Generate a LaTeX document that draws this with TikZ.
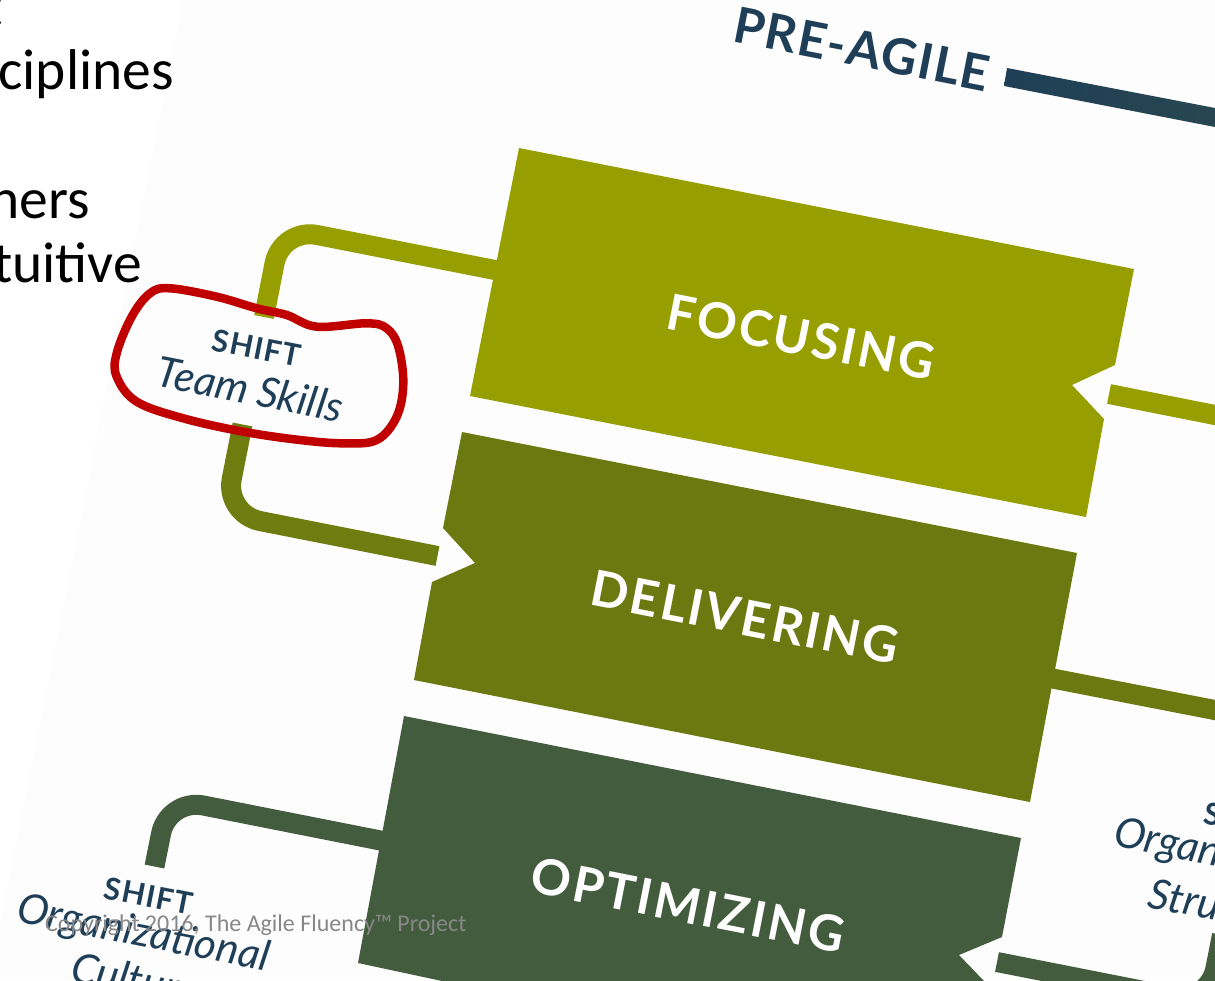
\documentclass[tikz,border=0pt]{standalone}
\usepackage{fontspec}
\setmainfont{Lato}
\newfontfamily\lvlfont[LetterSpace=5]{Lato}
\newfontfamily\barfont[LetterSpace=3]{Lato}
\newfontfamily\shiftfont[LetterSpace=4]{Lato}
\newfontfamily\slidefont{Carlito}
\definecolor{paper}{HTML}{FDFDFD}
\definecolor{focusc}{HTML}{979E00}
\definecolor{deliverc}{HTML}{6B7A10}
\definecolor{optimc}{HTML}{445C3E}
\definecolor{navy}{HTML}{1E3F57}
\definecolor{redmark}{HTML}{C00000}
\tikzset{
  lvltext/.style={text=white,font=\lvlfont\bfseries\fontsize{49.5}{49.5}\selectfont,rotate=-11.15,inner sep=0pt},
  shifthead/.style={text=navy,font=\shiftfont\bfseries\fontsize{30.5}{30.5}\selectfont,rotate=-11.15,inner sep=0pt},
  shiftname/.style={text=navy,font=\itshape\fontsize{42}{42}\selectfont,rotate=-11.15,inner sep=0pt},
  slidetext/.style={text=black,font=\slidefont\fontsize{57.5}{57.5}\selectfont,anchor=base east,inner sep=0pt},
  link/.style={line width=20pt,rounded corners=36pt,line cap=butt,line join=round},
}
\begin{document}
\begin{tikzpicture}[x=1pt,y=-1pt]
\clip (0,0) rectangle (1215,980);
\fill[white] (0,0) rectangle (1215,980);
\fill[paper] (183,0) -- (1215,0) -- (1215,980) -- (0,980) -- (0,929) -- cycle;

% slide text
\node[slidetext] (t0) at (3,25) {t};
\node[slidetext] (t1) at (174,89) {ciplines};
\node[slidetext] (t2) at (90,218) {ners};
\node[slidetext] (t3) at (142,282) {tuitive};

% title bar
\node[text=navy,font=\barfont\bfseries\fontsize{49.5}{49.5}\selectfont,rotate=-11.15,inner sep=0pt] (pre) at (862,49) {PRE-AGILE};
\shade[left color=navy,middle color=navy,right color=navy!75!optimc] (1007,68) -- (1215,108) -- (1215,127) -- (1004,86) -- cycle;

% level blocks
\fill[focusc] (519,148) -- (1134,269) -- (1115,365) -- (1072,385) -- (1104,419) -- (1086,517) -- (470,396) -- cycle;
\fill[deliverc] (462,432) -- (1077,553) -- (1030,802) -- (414,680) -- (432,582) -- (475,563) -- (443,528) -- cycle;
\fill[optimc] (404,716) -- (1021,838) -- (1002,937) -- (959,955) -- (984,981) -- (442,981) -- (358,963) -- cycle;

\node[lvltext] (focus) at (801,337) {FOCUSING};
\node[lvltext] (deliver) at (745,617) {DELIVERING};
\node[lvltext] (optim) at (688,905) {OPTIMIZING};

% connector end points
\coordinate (fL) at (497,270.4);
\coordinate (fC) at (281.5,228);
\coordinate (fE) at (264,317);
\coordinate (dS) at (242.5,424.5);
\coordinate (dC) at (224.8,514.1);
\coordinate (dE) at (437.5,556);
\coordinate (fR) at (1109,394);
\coordinate (fRo) at (1225,417);
\coordinate (dR) at (1050,678);
\coordinate (dRo) at (1225,712);
\coordinate (oL) at (383,841);
\coordinate (oC) at (168,798.5);
\coordinate (oE) at (154.5,866.5);
\coordinate (oR) at (997,962);
\coordinate (oC2) at (1208.4,1003.7);
\coordinate (oE2) at (1222,935);

% connectors
\draw[link,focusc] (fL) -- (fC) -- (fE);
\draw[link,deliverc!92!focusc] (dS) -- (dC) -- (dE);
\draw[link,focusc] (fR) -- (fRo);
\draw[link,deliverc] (dR) -- (dRo);
\draw[link,optimc] (oL) -- (oC) -- (oE);
\draw[link,optimc] (oE2) -- (oC2) -- (oR);

% shift labels
\node[shifthead] (s1) at (257,348) {SHIFT};
\node[shiftname] (s1n) at (250,389) {Team Skills};
\node[shifthead] (s2) at (149,896) {SHIFT};
\node[shiftname] (s2n) at (143,935) {Organizational};
\node[shiftname] (s2m) at (135,979) {Culture};
\node[shifthead] (s3) at (1249,821) {SHIFT};
\node[shiftname] (s3n) at (1240,859) {Organizational};
\node[shiftname] (s3m) at (1229,908) {Structure};

% red hand-drawn mark
\draw[redmark,line width=8.5pt] plot[smooth cycle,tension=0.6] coordinates {(170,288.3) (216.7,296.7) (256.7,308.3) (286.7,315) (316.7,326.7) (366.7,323.3) (386.7,328.3) (398.3,346.7) (403.3,383.3) (396.7,416.7) (376.7,440) (343.3,443.3) (300,440) (243.3,431.7) (183.3,418.3) (136.7,401.7) (116.7,376.7) (116.7,353.3) (131.7,316.7) (150,293.3)};

% copyright
\node[text=black!47,font=\slidefont\fontsize{24}{24}\selectfont,anchor=base west,inner sep=0pt] (copy) at (45,931) {Copyright 2016, The Agile Fluency™ Project};
\end{tikzpicture}
\end{document}
